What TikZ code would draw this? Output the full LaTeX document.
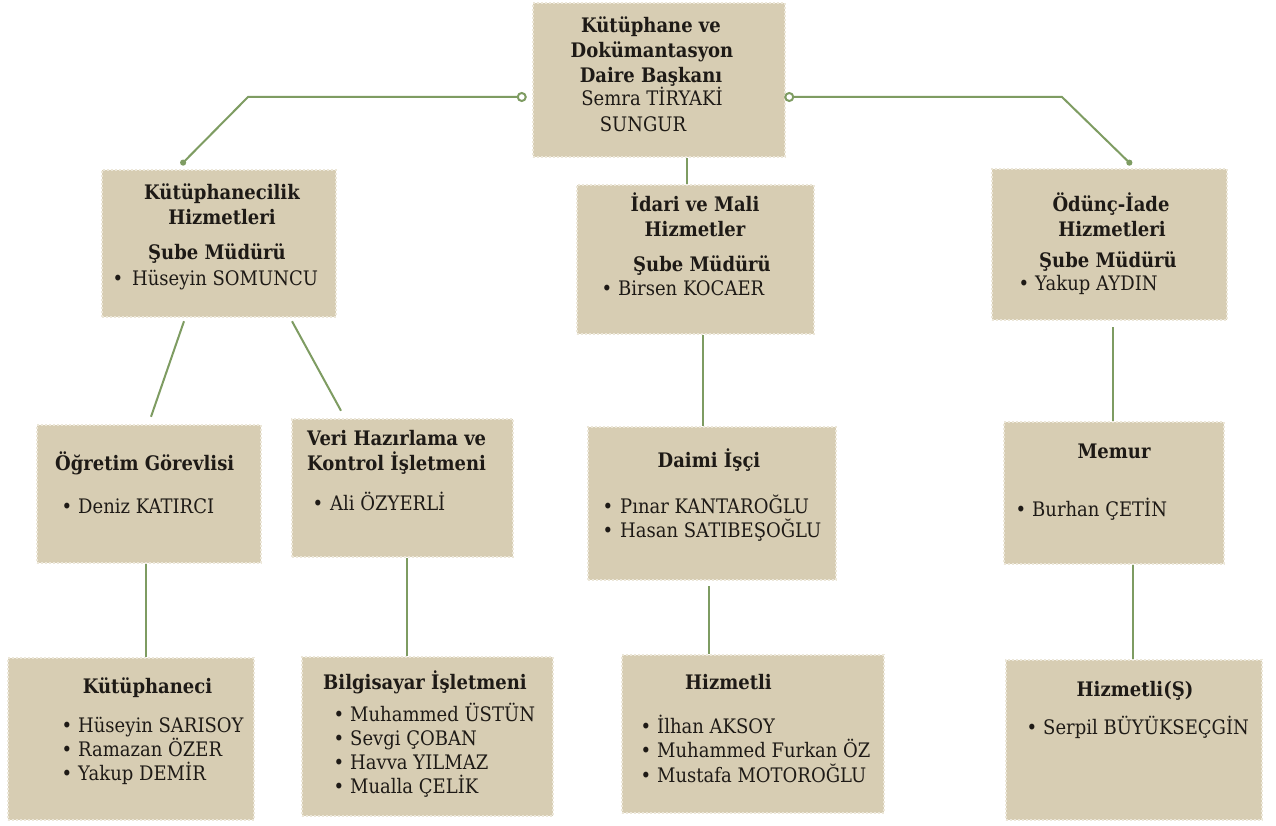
\documentclass[tikz,border=0pt]{standalone}
\usepackage{fontspec}
\setmainfont{DejaVu Serif}[FakeStretch=0.9]
\usetikzlibrary{arrows.meta}
\definecolor{boxfill}{RGB}{215,205,179}
\definecolor{boxedge}{RGB}{236,231,217}
\definecolor{linegreen}{RGB}{126,156,98}
\definecolor{ink}{RGB}{30,26,22}
\begin{document}
\begin{tikzpicture}[x=1pt,y=-1pt,
  box/.style={fill=boxfill, draw=boxedge, line width=2.5pt, dash pattern=on 2pt off 2pt, inner sep=0pt},
  conn/.style={draw=linegreen, line width=2pt},
  txt/.style={inner sep=0pt, text=ink, font=\fontsize{20}{24}\selectfont},
  hd/.style={txt, font=\fontsize{20}{24}\selectfont\bfseries},
  ctr/.style={anchor=base},
  lft/.style={anchor=base west}]
\fill[white] (0,0) rectangle (1276,826);
\useasboundingbox (0,0) rectangle (1276,826);
\newcommand\bul[1]{\llap{\textbullet\hspace{#1pt}}}
% boxes
\node[box, minimum width=252pt, minimum height=154pt] (b1) at (659,80) {};
\node[box, minimum width=234pt, minimum height=147pt] (b2) at (219,243.5) {};
\node[box, minimum width=237pt, minimum height=149pt] (b3) at (695.5,259.5) {};
\node[box, minimum width=235pt, minimum height=151pt] (b4) at (1109.5,244.5) {};
\node[box, minimum width=224pt, minimum height=138pt] (b5) at (149,494) {};
\node[box, minimum width=221pt, minimum height=138pt] (b6) at (402.5,488) {};
\node[box, minimum width=248pt, minimum height=153pt] (b7) at (712,503.5) {};
\node[box, minimum width=220pt, minimum height=142pt] (b8) at (1114,493) {};
\node[box, minimum width=246pt, minimum height=162pt] (b9) at (131,739) {};
\node[box, minimum width=251pt, minimum height=159pt] (b10) at (427.5,736.5) {};
\node[box, minimum width=262pt, minimum height=158pt] (b11) at (753,734) {};
\node[box, minimum width=256pt, minimum height=160pt] (b12) at (1134,740) {};
% connectors
\draw[conn, {Circle[open,length=10pt,width=10pt]}-{Circle[length=6pt,width=6pt]}]
  ([xshift=-5pt,yshift=-17pt]b1.west) -- (248,97) -- ([xshift=-38pt,yshift=4pt]b2.north);
\draw[conn, {Circle[open,length=10pt,width=10pt]}-{Circle[length=6pt,width=6pt]}]
  ([xshift=-2pt,yshift=-17pt]b1.east) -- (1062,97) -- ([xshift=22pt,yshift=3pt]b4.north);
\draw[conn] ([xshift=28pt]b1.south) -- ([xshift=-8.5pt]b3.north);
\draw[conn] ([xshift=-35pt,yshift=-3pt]b2.south) -- ([xshift=2pt,yshift=7pt]b5.north);
\draw[conn] ([xshift=73pt,yshift=-3pt]b2.south) -- ([xshift=-61.5pt,yshift=7pt]b6.north);
\draw[conn] ([xshift=-3pt]b5.south) -- ([xshift=15pt]b9.north);
\draw[conn] ([xshift=4.5pt]b6.south) -- ([xshift=-20.5pt]b10.north);
\draw[conn] ([xshift=7.5pt]b3.south) -- ([xshift=-9pt]b7.north);
\draw[conn] ([xshift=-3pt,yshift=-5pt]b7.south) -- ([xshift=-44pt]b11.north);
\draw[conn] ([xshift=3.5pt,yshift=-6pt]b4.south) -- ([xshift=-1pt]b8.north);
\draw[conn] ([xshift=19pt]b8.south) -- ([xshift=-1pt]b12.north);
% b1 texts
\node[hd,ctr] (t1a) at (651,33) {Kütüphane ve};
\node[hd,ctr] (t1b) at (652,58) {Dokümantasyon};
\node[hd,ctr] (t1c) at (651,83) {Daire Başkanı};
\node[txt,ctr] (t1d) at (652,106) {Semra TİRYAKİ};
\node[txt,ctr] (t1e) at (643,132) {SUNGUR};
% b2
\node[hd,ctr] (t2a) at (222,200) {Kütüphanecilik};
\node[hd,ctr] (t2b) at (222,225) {Hizmetleri};
\node[hd,ctr] (t2c) at (217,259) {Şube Müdürü};
\node[txt,lft] (t2d) at (132,285) {\bul{9}Hüseyin SOMUNCU};
% b3
\node[hd,ctr] (t3a) at (695,212) {İdari ve Mali};
\node[hd,ctr] (t3b) at (695,237) {Hizmetler};
\node[hd,ctr] (t3c) at (702,272) {Şube Müdürü};
\node[txt,lft] (t3d) at (618,295) {\bul{6}Birsen KOCAER};
% b4
\node[hd,ctr] (t4a) at (1111,212) {Ödünç-İade};
\node[hd,ctr] (t4b) at (1112,237) {Hizmetleri};
\node[hd,ctr] (t4c) at (1108,267) {Şube Müdürü};
\node[txt,lft] (t4d) at (1035,290) {\bul{6}Yakup AYDIN};
% b5
\node[hd,lft] (t5a) at (55,470) {Öğretim Görevlisi};
\node[txt,lft] (t5b) at (78,513) {\bul{6}Deniz KATIRCI};
% b6
\node[hd,lft] (t6a) at (307,445) {Veri Hazırlama ve};
\node[hd,lft] (t6b) at (307,470) {Kontrol İşletmeni};
\node[txt,lft] (t6c) at (330,510) {\bul{7}Ali ÖZYERLİ};
% b7
\node[hd,ctr] (t7a) at (709,467) {Daimi İşçi};
\node[txt,lft] (t7b) at (620,513) {\bul{7}Pınar KANTAROĞLU};
\node[txt,lft] (t7c) at (620,537) {\bul{7}Hasan SATIBEŞOĞLU};
% b8
\node[hd,ctr] (t8a) at (1114,458) {Memur};
\node[txt,lft] (t8b) at (1032,516) {\bul{6}Burhan ÇETİN};
% b9
\node[hd,ctr] (t9a) at (147.5,693) {Kütüphaneci};
\node[txt,lft] (t9b) at (78,732) {\bul{6}Hüseyin SARISOY};
\node[txt,lft] (t9c) at (78,756) {\bul{6}Ramazan ÖZER};
\node[txt,lft] (t9d) at (78,780) {\bul{6}Yakup DEMİR};
% b10
\node[hd,lft] (t10a) at (323,689) {Bilgisayar İşletmeni};
\node[txt,lft] (t10b) at (350,721) {\bul{6}Muhammed ÜSTÜN};
\node[txt,lft] (t10c) at (350,745) {\bul{6}Sevgi ÇOBAN};
\node[txt,lft] (t10d) at (350,769) {\bul{6}Havva YILMAZ};
\node[txt,lft] (t10e) at (350,793) {\bul{6}Mualla ÇELİK};
% b11
\node[hd,ctr] (t11a) at (728.5,689) {Hizmetli};
\node[txt,lft] (t11b) at (657,733) {\bul{6}İlhan AKSOY};
\node[txt,lft] (t11c) at (657,757) {\bul{6}Muhammed Furkan ÖZ};
\node[txt,lft] (t11d) at (657,782) {\bul{6}Mustafa MOTOROĞLU};
% b12
\node[hd,ctr] (t12a) at (1135,696) {Hizmetli(Ş)};
\node[txt,lft] (t12b) at (1043,734) {\bul{6}Serpil BÜYÜKSEÇGİN};
\end{tikzpicture}
\end{document}
